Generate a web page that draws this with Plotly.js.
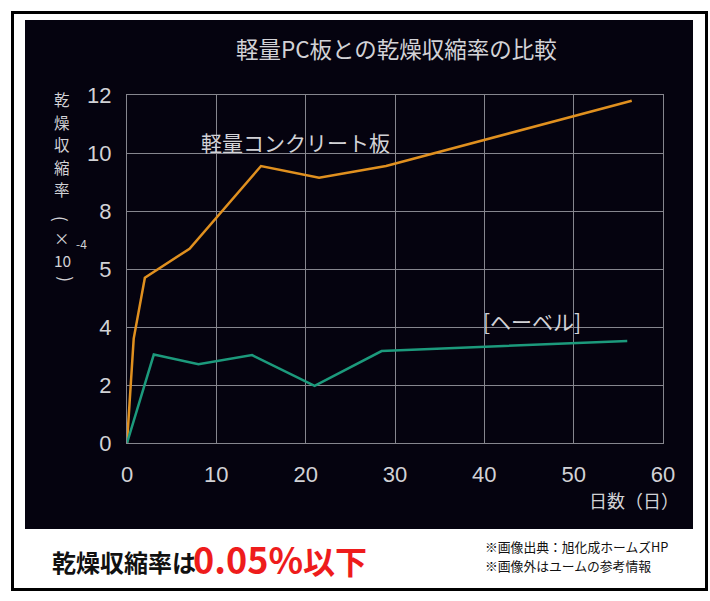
<!DOCTYPE html>
<html>
<head>
<meta charset="utf-8">
<script src="https://cdn.plot.ly/plotly-3.0.1.min.js"></script>
<style>
  html, body { margin: 0; padding: 0; background: #fff; }
  #chart { width: 710px; height: 601px; }
</style>
</head>
<body>
<div id="chart"></div>
<script>
// 軽量コンクリート板 (days, shrinkage x10^-4)
var daysPC = [0, 0.75, 2, 7, 15, 21.5, 29, 56.5];
var shrinkPC = [0, 3.6, 5.7, 6.7, 9.55, 9.15, 9.55, 11.8];
// ヘーベル
var daysHebel = [0, 3, 8, 14, 21, 28.5, 56];
var shrinkHebel = [0, 3.05, 2.72, 3.03, 1.97, 3.17, 3.52];

var xTicks = [0, 10, 20, 30, 40, 50, 60];
var yTickVals = [0, 2, 4, 6, 8, 10, 12];
var yTickText = ["0", "2", "4", "5", "8", "10", "12"];
var yTitleChars = ["乾", "燥", "収", "縮", "率"];
var notes = ["※画像出典：旭化成ホームズHP", "※画像外はユームの参考情報"];

// plot area in pixels
var W = 710, H = 601;
var L = 127, R = 663, T = 95, B = 443;
function px(x) { return (x - L) / (R - L); }
function py(y) { return (B - y) / (B - T); }

var jp = "'Noto Sans CJK JP', 'Noto Sans', sans-serif";
var light = "#d2d2d6";
var grid = "#86868e";

var traces = [
  {x: daysPC, y: shrinkPC, mode: "lines", line: {color: "#e0901f", width: 2.5}, hoverinfo: "skip"},
  {x: daysHebel, y: shrinkHebel, mode: "lines", line: {color: "#1c9a7c", width: 2.5}, hoverinfo: "skip"}
];

var ann = [];
function addText(text, x, y, size, color, opts) {
  var a = {
    text: text, xref: "paper", yref: "paper", x: px(x), y: py(y),
    showarrow: false, font: {family: jp, size: size, color: color},
    xanchor: "center", yanchor: "middle"
  };
  for (var k in (opts || {})) a[k] = opts[k];
  ann.push(a);
}

addText("軽量PC板との乾燥収縮率の比較", 396, 48, 22.5, light);
addText("軽量コンクリート板", 295, 142, 21, light);
addText("[ヘーベル]", 532, 321, 21, light);
addText("日数（日）", 681, 500, 18, light, {xanchor: "right"});

// vertical y-axis title, one character per line
yTitleChars.forEach(function(c, i) {
  addText(c, 62, 99 + i * 22.6, 15.5, light);
});
addText("(", 62, 219, 17, light, {textangle: 90});
addText("×", 62, 238, 15.5, light);
addText("10", 62, 260, 15.5, light);
addText("(", 62, 279, 17, light, {textangle: -90});
addText("-4", 81, 244, 12, light);

addText("<b>乾燥収縮率は</b>", 50, 561, 24, "#111", {xanchor: "left"});
addText("<b>0.05%<span style='font-size:32px'>以下</span></b>", 191, 558, 36, "#ee1c1c",
  {xanchor: "left"});
notes.forEach(function(t, i) {
  addText(t, 483, 546.5 + i * 18.8, 12.8, "#111", {xanchor: "left"});
});

var layout = {
  width: W, height: H,
  margin: {l: L, r: W - R, t: T, b: H - B, pad: 0},
  paper_bgcolor: "#ffffff",
  plot_bgcolor: "rgba(0,0,0,0)",
  showlegend: false,
  font: {family: jp, color: light},
  xaxis: {
    range: [0, 60], tickvals: xTicks, ticks: "", ticklabelstandoff: 12,
    showgrid: true, gridcolor: grid, gridwidth: 1, zeroline: false,
    showline: true, linecolor: grid, linewidth: 1, mirror: true,
    tickfont: {family: "'Liberation Sans', sans-serif", size: 22, color: light},
    fixedrange: true
  },
  yaxis: {
    range: [0, 12], tickvals: yTickVals, ticktext: yTickText, ticks: "", ticklabelstandoff: 10,
    showgrid: true, gridcolor: grid, gridwidth: 1, zeroline: false,
    showline: true, linecolor: grid, linewidth: 1, mirror: true,
    tickfont: {family: "'Liberation Sans', sans-serif", size: 22, color: light},
    fixedrange: true
  },
  shapes: [
    {type: "rect", xref: "paper", yref: "paper", layer: "below",
     x0: px(12.5), x1: px(706.5), y0: py(589.5), y1: py(12.5),
     line: {color: "#000", width: 3}, fillcolor: "#fff"},
    {type: "rect", xref: "paper", yref: "paper", layer: "below",
     x0: px(25), x1: px(693), y0: py(529), y1: py(20),
     line: {width: 0}, fillcolor: "#05030f"}
  ],
  annotations: ann
};

Plotly.newPlot("chart", traces, layout, {displayModeBar: false, staticPlot: true});
</script>
</body>
</html>
